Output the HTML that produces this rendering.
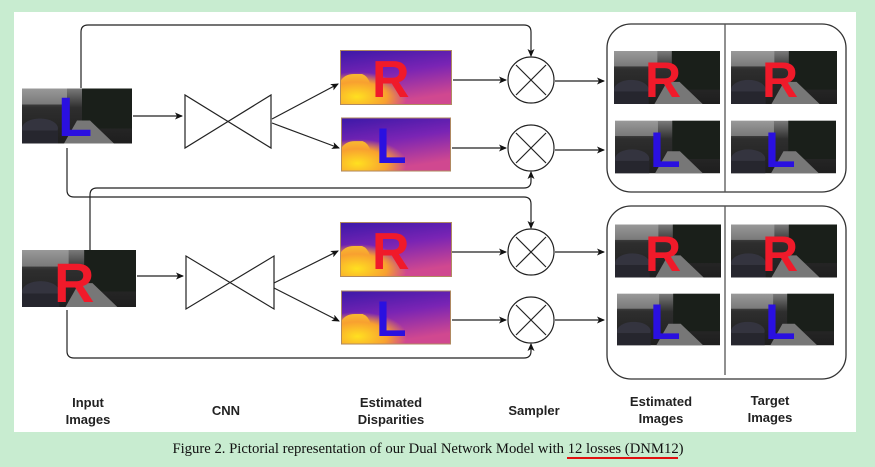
<!DOCTYPE html>
<html><head><meta charset="utf-8"><style>
html,body{margin:0;padding:0;background:#c8ecd0;width:875px;height:467px;overflow:hidden}
svg{display:block}
</style></head><body>
<svg width="875" height="467" viewBox="0 0 875 467" xmlns="http://www.w3.org/2000/svg">
<defs>
<marker id="a" markerWidth="8" markerHeight="8" refX="7" refY="4" orient="auto" markerUnits="userSpaceOnUse">
<path d="M0,0.5 L8,4 L0,7.5 L2,4 Z" fill="#111"/></marker>
<linearGradient id="sky" x1="0" y1="0" x2="0" y2="1">
<stop offset="0" stop-color="#7a7a7a"/><stop offset="0.35" stop-color="#2e2e2e"/><stop offset="1" stop-color="#1e1e1e"/></linearGradient>
<linearGradient id="disp" x1="0" y1="0" x2="0.3" y2="1">
<stop offset="0" stop-color="#3a18a8"/><stop offset="0.5" stop-color="#7a24b4"/><stop offset="1" stop-color="#d04890"/></linearGradient>
<radialGradient id="blob" cx="0.15" cy="0.85" r="0.45">
<stop offset="0" stop-color="#ffe020"/><stop offset="0.6" stop-color="#f8a030"/><stop offset="1" stop-color="#f8a030" stop-opacity="0"/></radialGradient>
<symbol id="ph" viewBox="0 0 110 55">
<rect width="110" height="55" fill="url(#sky)"/>
<rect x="0" y="0" width="45" height="16" fill="#b8b8b8" opacity="0.5"/>
<rect x="60" y="0" width="50" height="40" fill="#1a1f1a"/>
<polygon points="42,55 55,32 68,32 92,55" fill="#777"/>
<ellipse cx="18" cy="40" rx="18" ry="10" fill="#34343f"/>
<rect x="0" y="42" width="36" height="13" fill="#26262e"/>
</symbol>
<symbol id="dp" viewBox="0 0 112 55">
<rect width="112" height="55" fill="url(#disp)"/>
<path d="M0,55 L0,32 Q4,24 14,24 L22,24 Q28,26 30,34 L34,40 L34,55 Z" fill="#f8c030"/>
<rect width="112" height="55" fill="url(#blob)"/>
<rect x="0.5" y="0.5" width="111" height="54" fill="none" stroke="#b08a60"/>
</symbol>
</defs>
<rect x="14" y="12" width="842" height="420" fill="#fff"/>
<g font-family="Liberation Sans, sans-serif" font-weight="bold">
<use href="#ph" x="22" y="88" width="110" height="56"/>
<text x="58" y="136" font-size="56" fill="#2a10e0">L</text>
<use href="#ph" x="22" y="250" width="114" height="57"/>
<text x="54" y="302" font-size="56" fill="#f01a2a">R</text>
<use href="#dp" x="340" y="50" width="112" height="55"/>
<text x="372" y="97" font-size="52" fill="#f01a2a">R</text>
<use href="#dp" x="341" y="117" width="110" height="55"/>
<text x="376" y="163" font-size="50" fill="#2a10e0">L</text>
<use href="#dp" x="340" y="222" width="112" height="55"/>
<text x="372" y="269" font-size="52" fill="#f01a2a">R</text>
<use href="#dp" x="341" y="290" width="110" height="55"/>
<text x="376" y="336" font-size="50" fill="#2a10e0">L</text>
<rect x="607" y="24" width="239" height="168" rx="24" fill="none" stroke="#333" stroke-width="1.3"/>
<line x1="725" y1="24" x2="725" y2="192" stroke="#555" stroke-width="1.3"/>
<rect x="607" y="206" width="239" height="173" rx="24" fill="none" stroke="#333" stroke-width="1.3"/>
<line x1="725" y1="206" x2="725" y2="375" stroke="#555" stroke-width="1.3"/>
<use href="#ph" x="614" y="51" width="106" height="53"/><text x="645" y="97" font-size="50" fill="#f01a2a">R</text>
<use href="#ph" x="731" y="51" width="106" height="53"/><text x="762" y="97" font-size="50" fill="#f01a2a">R</text>
<use href="#ph" x="615" y="120" width="105" height="54"/><text x="650" y="167" font-size="50" fill="#2a10e0">L</text>
<use href="#ph" x="731" y="120" width="105" height="54"/><text x="765" y="167" font-size="50" fill="#2a10e0">L</text>
<use href="#ph" x="615" y="224" width="106" height="54"/><text x="645" y="271" font-size="50" fill="#f01a2a">R</text>
<use href="#ph" x="731" y="224" width="106" height="54"/><text x="762" y="271" font-size="50" fill="#f01a2a">R</text>
<use href="#ph" x="617" y="293" width="103" height="53"/><text x="650" y="339" font-size="50" fill="#2a10e0">L</text>
<use href="#ph" x="731" y="293" width="103" height="53"/><text x="765" y="339" font-size="50" fill="#2a10e0">L</text>
</g>
<g fill="none" stroke="#222" stroke-width="1.2">
<path d="M185,95 L185,148 L271,95 L271,148 Z"/>
<path d="M186,256 L186,309 L274,256 L274,309 Z"/>
<circle cx="531" cy="80" r="23"/><path d="M516,65 L546,95 M546,65 L516,95"/>
<circle cx="531" cy="148" r="23"/><path d="M516,133 L546,163 M546,133 L516,163"/>
<circle cx="531" cy="252" r="23"/><path d="M516,237 L546,267 M546,237 L516,267"/>
<circle cx="531" cy="320" r="23"/><path d="M516,305 L546,335 M546,305 L516,335"/>
<g marker-end="url(#a)">
<line x1="133" y1="116" x2="182" y2="116"/>
<line x1="272" y1="119" x2="338" y2="84"/>
<line x1="272" y1="123" x2="339" y2="148"/>
<line x1="137" y1="276" x2="183" y2="276"/>
<line x1="274" y1="283" x2="338" y2="251"/>
<line x1="274" y1="288" x2="339" y2="321"/>
<line x1="453" y1="80" x2="506" y2="80"/>
<line x1="452" y1="148" x2="506" y2="148"/>
<line x1="452" y1="252" x2="506" y2="252"/>
<line x1="452" y1="320" x2="506" y2="320"/>
<line x1="555" y1="81" x2="604" y2="81"/>
<line x1="555" y1="150" x2="604" y2="150"/>
<line x1="555" y1="252" x2="604" y2="252"/>
<line x1="555" y1="320" x2="604" y2="320"/>
<path d="M81,88 L81,32 Q81,25 88,25 L524,25 Q531,25 531,32 L531,56"/>
<path d="M67,148 L67,190 Q67,197 74,197 L524,197 Q531,197 531,204 L531,228"/>
<path d="M90,250 L90,195 Q90,188 97,188 L524,188 Q531,188 531,181 L531,172"/>
<path d="M67,310 L67,351 Q67,358 74,358 L524,358 Q531,358 531,351 L531,344"/>
</g>
</g>
<g font-family="Liberation Sans, sans-serif" font-weight="bold" font-size="13" fill="#222" text-anchor="middle">
<text x="88" y="407">Input</text><text x="88" y="424">Images</text>
<text x="226" y="415">CNN</text>
<text x="391" y="407">Estimated</text><text x="391" y="424">Disparities</text>
<text x="534" y="415">Sampler</text>
<text x="661" y="406">Estimated</text><text x="661" y="423">Images</text>
<text x="770" y="405">Target</text><text x="770" y="422">Images</text>
</g>
<text x="428" y="453" font-family="Liberation Serif, serif" font-size="14.7" fill="#111" text-anchor="middle">Figure 2. Pictorial representation of our Dual Network Model with 12 losses (DNM12)</text>
<line x1="567" y1="458" x2="678" y2="458" stroke="#e01010" stroke-width="2"/>
</svg>
</body></html>
